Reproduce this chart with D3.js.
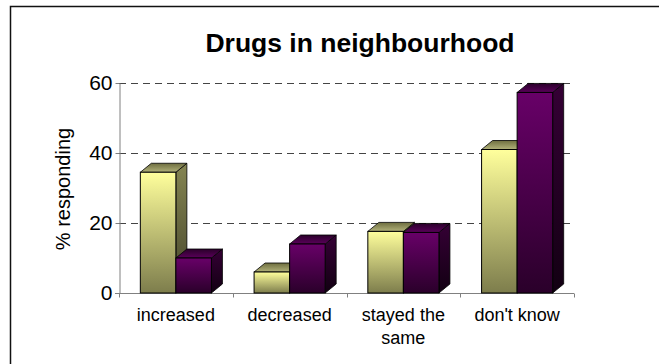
<!DOCTYPE html>
<html lang="en">
<head>
<meta charset="utf-8">
<title>Drugs in neighbourhood</title>
<script src="https://cdn.jsdelivr.net/npm/d3@7"></script>
<style>
  body { margin: 0; background: #fff; }
  svg { display: block; font-family: "Liberation Sans", Arial, sans-serif; }
  .grid line { stroke: #444; stroke-dasharray: 7,5; }
  .axis path, .axis line { stroke: #808080; }
</style>
</head>
<body>
<div id="chart"></div>
<script>
// data
const categories = ["increased", "decreased", "stayed the same", "don't know"];
const series = ["s1", "s2"];
const valuesYellow = [34.5, 6, 17.6, 41];
const valuesPurple = [10, 14, 17.3, 57.3];
const yTicks = [0, 20, 40, 60];

const W = 659, H = 364;
const plotLeft = 119, plotRight = 574, plotTop = 83, plotBottom = 293;
const dx = 11, dy = 9;

const svg = d3.select("#chart").append("svg")
  .attr("width", W).attr("height", H);

// frame
svg.append("rect")
  .attr("x", 10.5).attr("y", 6.5)
  .attr("width", 700).attr("height", 400)
  .attr("fill", "#fff").attr("stroke", "#111").attr("stroke-width", 1.5);

// gradients
const defs = svg.append("defs");
function grad(id, c1, c2) {
  const g = defs.append("linearGradient").attr("id", id)
    .attr("x1", 0).attr("y1", 0).attr("x2", 0).attr("y2", 1);
  g.append("stop").attr("offset", "0%").attr("stop-color", c1);
  g.append("stop").attr("offset", "100%").attr("stop-color", c2);
}
grad("yFront", "#ffff9c", "#7d7d4c");
grad("ySide", "#858552", "#45452a");
grad("yTop", "#6e6e40", "#b2b27a");
grad("pFront", "#680068", "#2a002a");
grad("pSide", "#350035", "#120012");
grad("pTop", "#2a002a", "#5a005a");

const x = d3.scaleBand().domain(categories).range([plotLeft, plotRight]);
const xs = d3.scaleBand().domain(series).range([0, x.bandwidth()]).paddingOuter(0.6);
const y = d3.scaleLinear().domain([0, 60]).range([plotBottom, plotTop]);

// gridlines
svg.append("g").attr("class", "grid")
  .selectAll("line").data(yTicks.filter(d => d > 0)).join("line")
  .attr("x1", plotLeft).attr("x2", plotRight)
  .attr("y1", d => y(d) + 0.5).attr("y2", d => y(d) + 0.5);

// axes
const yAxis = svg.append("g").attr("class", "axis")
  .attr("transform", `translate(${plotLeft + 0.5},0)`)
  .call(d3.axisLeft(y).tickValues(yTicks).tickSize(4).tickSizeOuter(0).tickPadding(3));
yAxis.selectAll("text").attr("font-size", 21).attr("fill", "#000").attr("font-family", null);

const xAxis = svg.append("g").attr("class", "axis")
  .attr("transform", `translate(0,${plotBottom + 0.5})`);
xAxis.append("line").attr("x1", plotLeft - 4).attr("x2", plotRight);
xAxis.selectAll(".tk").data(categories.map(c => x(c)).concat([plotRight])).join("line")
  .attr("class", "tk")
  .attr("x1", d => Math.round(d) + 0.5).attr("x2", d => Math.round(d) + 0.5)
  .attr("y1", 0).attr("y2", 4);

// bars
const rows = categories.map((c, i) => ({ c, vals: [valuesYellow[i], valuesPurple[i]] }));
const styles = [["yFront", "ySide", "yTop"], ["pFront", "pSide", "pTop"]];

const groups = svg.append("g").selectAll("g").data(rows).join("g")
  .attr("transform", d => `translate(${x(d.c)},0)`);

groups.each(function(d) {
  const g = d3.select(this);
  series.forEach((s, k) => {
    const x0 = xs(s), w = xs.bandwidth();
    const yt = y(d.vals[k]), yb = y(0);
    const [f, sd, tp] = styles[k];
    g.append("path")
      .attr("d", `M${x0 + w},${yt}L${x0 + w + dx},${yt - dy}L${x0 + w + dx},${yb - dy}L${x0 + w},${yb}Z`)
      .attr("fill", `url(#${sd})`).attr("stroke", "#000").attr("stroke-width", 0.8);
    g.append("path")
      .attr("d", `M${x0},${yt}L${x0 + dx},${yt - dy}L${x0 + w + dx},${yt - dy}L${x0 + w},${yt}Z`)
      .attr("fill", `url(#${tp})`).attr("stroke", "#000").attr("stroke-width", 0.8);
    g.append("rect")
      .attr("x", x0).attr("y", yt).attr("width", w).attr("height", yb - yt)
      .attr("fill", `url(#${f})`).attr("stroke", "#000").attr("stroke-width", 1);
  });
});

// category labels
const labelLines = { "stayed the same": ["stayed the", "same"] };
const lab = svg.append("g").selectAll("text").data(categories).join("text")
  .attr("x", d => x(d) + x.bandwidth() / 2)
  .attr("y", 321)
  .attr("text-anchor", "middle")
  .attr("font-size", 18);
lab.each(function(d) {
  const lines = labelLines[d] || [d];
  d3.select(this).selectAll("tspan").data(lines).join("tspan")
    .attr("x", x(d) + x.bandwidth() / 2)
    .attr("dy", (l, i) => i === 0 ? 0 : 23)
    .text(l => l);
});

// y label
svg.append("text")
  .attr("transform", "translate(70,189) rotate(-90)")
  .attr("text-anchor", "middle")
  .attr("font-size", 20)
  .text("% responding");

// title
svg.append("text")
  .attr("x", 360).attr("y", 52)
  .attr("text-anchor", "middle")
  .attr("font-size", 26.5).attr("font-weight", "bold")
  .text("Drugs in neighbourhood");
</script>
</body>
</html>
